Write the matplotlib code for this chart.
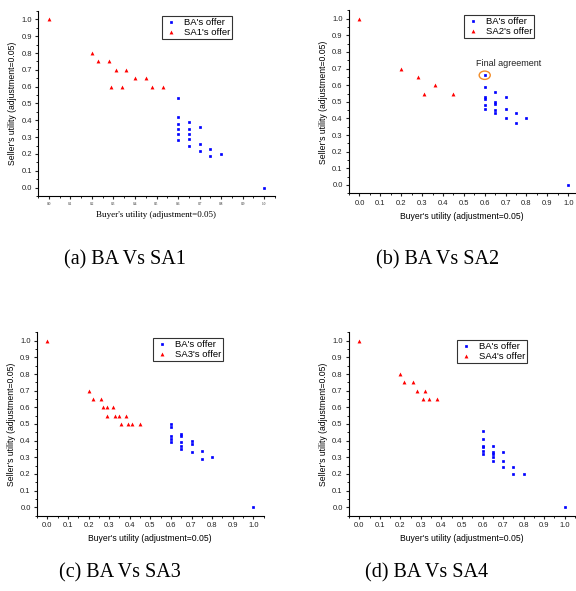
import numpy as np
import matplotlib
matplotlib.use("Agg")
import matplotlib.pyplot as plt
from matplotlib.patches import Ellipse
from matplotlib.ticker import MultipleLocator

# (a) BA vs SA1
a_sa_x = [0.0, 0.20, 0.23, 0.28, 0.31, 0.29, 0.34, 0.36, 0.40, 0.45, 0.48, 0.53]
a_sa_y = [1.0, 0.80, 0.75, 0.75, 0.70, 0.60, 0.60, 0.70, 0.65, 0.65, 0.60, 0.60]
a_ba_x = [0.6, 0.6, 0.6, 0.6, 0.6, 0.6, 0.65, 0.65, 0.65, 0.65, 0.65,
          0.7, 0.7, 0.7, 0.75, 0.75, 0.8, 1.0]
a_ba_y = [0.53, 0.42, 0.38, 0.35, 0.32, 0.28, 0.39, 0.35, 0.32, 0.29, 0.25,
          0.36, 0.26, 0.22, 0.23, 0.19, 0.20, 0.0]

# (b) BA vs SA2
b_sa_x = [0.0, 0.20, 0.28, 0.31, 0.36, 0.45]
b_sa_y = [1.0, 0.70, 0.65, 0.55, 0.60, 0.55]
b_ba_x = [0.6, 0.6, 0.6, 0.6, 0.6, 0.6, 0.65, 0.65, 0.65, 0.65, 0.65,
          0.7, 0.7, 0.7, 0.75, 0.75, 0.8, 1.0]
b_ba_y = [0.66, 0.59, 0.53, 0.52, 0.48, 0.46, 0.56, 0.50, 0.49, 0.45, 0.43,
          0.53, 0.46, 0.40, 0.43, 0.37, 0.40, 0.0]
final_agreement = (0.6, 0.66)

# (c) BA vs SA3
c_sa_x = [0.0, 0.20, 0.22, 0.26, 0.27, 0.29, 0.29, 0.32, 0.33, 0.35,
          0.36, 0.38, 0.39, 0.41, 0.45]
c_sa_y = [1.0, 0.70, 0.65, 0.65, 0.60, 0.60, 0.55, 0.60, 0.55, 0.55,
          0.50, 0.55, 0.50, 0.50, 0.50]
c_ba_x = [0.6, 0.6, 0.6, 0.6, 0.6, 0.65, 0.65, 0.65, 0.65, 0.65,
          0.7, 0.7, 0.7, 0.75, 0.75, 0.8, 1.0]
c_ba_y = [0.50, 0.48, 0.43, 0.41, 0.39, 0.44, 0.43, 0.39, 0.37, 0.35,
          0.40, 0.38, 0.33, 0.34, 0.29, 0.30, 0.0]

# (d) BA vs SA4
d_sa_x = [0.0, 0.20, 0.22, 0.26, 0.28, 0.31, 0.32, 0.34, 0.38]
d_sa_y = [1.0, 0.80, 0.75, 0.75, 0.70, 0.65, 0.70, 0.65, 0.65]
d_ba_x = [0.6, 0.6, 0.6, 0.6, 0.6, 0.6, 0.65, 0.65, 0.65, 0.65, 0.65,
          0.7, 0.7, 0.7, 0.75, 0.75, 0.8, 1.0]
d_ba_y = [0.46, 0.41, 0.37, 0.36, 0.34, 0.32, 0.37, 0.33, 0.32, 0.30, 0.28,
          0.33, 0.28, 0.24, 0.24, 0.20, 0.20, 0.0]

W, H = 576, 591
fig = plt.figure(figsize=(W / 100, H / 100), dpi=100)
plt.rcParams['font.family'] = ['Liberation Sans', 'DejaVu Sans']


def make_axes(l, r, t, b, xmax):
    ax = fig.add_axes([l / W, 1 - b / H, (r - l) / W, (b - t) / H])
    ax.set_xlim(-0.05, xmax)
    ax.set_ylim(-0.05, 1.05)
    for s in ['top', 'right']:
        ax.spines[s].set_visible(False)
    for s in ['left', 'bottom']:
        ax.spines[s].set_linewidth(0.8)
    ax.xaxis.set_minor_locator(MultipleLocator(0.05))
    ax.yaxis.set_minor_locator(MultipleLocator(0.05))
    ax.set_xticks(np.arange(0, 1.01, 0.1))
    ax.set_yticks(np.arange(0, 1.01, 0.1))
    ax.tick_params(which='major', direction='out', length=2.5, width=0.8,
                   labelsize=5.5, pad=2, colors='#222222')
    ax.tick_params(which='minor', direction='out', length=1.3, width=0.6)
    return ax


def draw(ax, ba_x, ba_y, sa_x, sa_y, sa_name, legend_box):
    ax.plot(ba_x, ba_y, 's', color='#0000ff', mec='#0000ff', ms=1.7, mew=0.5,
            label="BA's offer")
    ax.plot(sa_x, sa_y, '^', color='#ff0000', ms=2.8, mew=0,
            label=sa_name + "'s offer")
    x0, y0 = legend_box
    leg = ax.legend(loc='upper left', bbox_to_anchor=(x0 / W, 1 - y0 / H),
                    bbox_transform=fig.transFigure, borderaxespad=0,
                    fontsize=6.8, frameon=True, fancybox=False,
                    edgecolor='black', handlelength=1.6, handletextpad=0.5,
                    borderpad=0.2, labelspacing=0.1, markerscale=1.0)
    leg.get_frame().set_linewidth(0.8)


def labels(ax, xl_off, yl_off, serif=False):
    ax.set_ylabel("Seller's utility (adjustment=0.05)", fontsize=6.2)
    ax.set_xlabel("Buyer's utility (adjustment=0.05)", fontsize=6.5 if serif else 6.2,
                  family='Liberation Serif' if serif else None)
    bb = ax.get_position()
    h = bb.height * H
    w = bb.width * W
    ax.xaxis.label.set_va('center')
    ax.yaxis.label.set_va('center')
    ax.xaxis.set_label_coords(0.5, -xl_off / h)
    ax.yaxis.set_label_coords(-yl_off / w, 0.5)


# (a)
ax = make_axes(38, 275, 11, 196, 1.05)
draw(ax, a_ba_x, a_ba_y, a_sa_x, a_sa_y, 'SA1', (162, 16))
labels(ax, 19, 25, serif=True)
for t in ax.get_xticklabels():
    t.set_fontsize(2.5)
    t.set_family('Liberation Serif')

# (b)
ax = make_axes(349, 574.5, 10.4, 193.3, 1.03)
draw(ax, b_ba_x, b_ba_y, b_sa_x, b_sa_y, 'SA2', (464, 15))
labels(ax, 23, 26)
ax.add_patch(Ellipse(final_agreement, 0.053, 0.05, fill=False,
                     edgecolor='#f28c28', linewidth=1.0))
ax.text(final_agreement[0] - 0.04, final_agreement[1] + 0.07, 'Final agreement',
        fontsize=6.5, ha='left', va='center', color='#222222')

# (c)
ax = make_axes(37, 263.6, 332.4, 515.6, 1.05)
draw(ax, c_ba_x, c_ba_y, c_sa_x, c_sa_y, 'SA3', (153, 338))
labels(ax, 23, 25)

# (d)
ax = make_axes(349, 575, 332.4, 515.6, 1.05)
draw(ax, d_ba_x, d_ba_y, d_sa_x, d_sa_y, 'SA4', (457, 340))
labels(ax, 23, 26)

# captions
captions = ['(a) BA Vs SA1', '(b) BA Vs SA2', '(c) BA Vs SA3', '(d) BA Vs SA4']
cap_pos = [(124.5, 260), (437.7, 260), (120, 573), (427, 573)]
for txt, (cx, cy) in zip(captions, cap_pos):
    fig.text(cx / W, 1 - cy / H, txt, fontsize=14.5, family='Liberation Serif',
             ha='center', va='center')

fig.savefig('out.png', dpi=100)
